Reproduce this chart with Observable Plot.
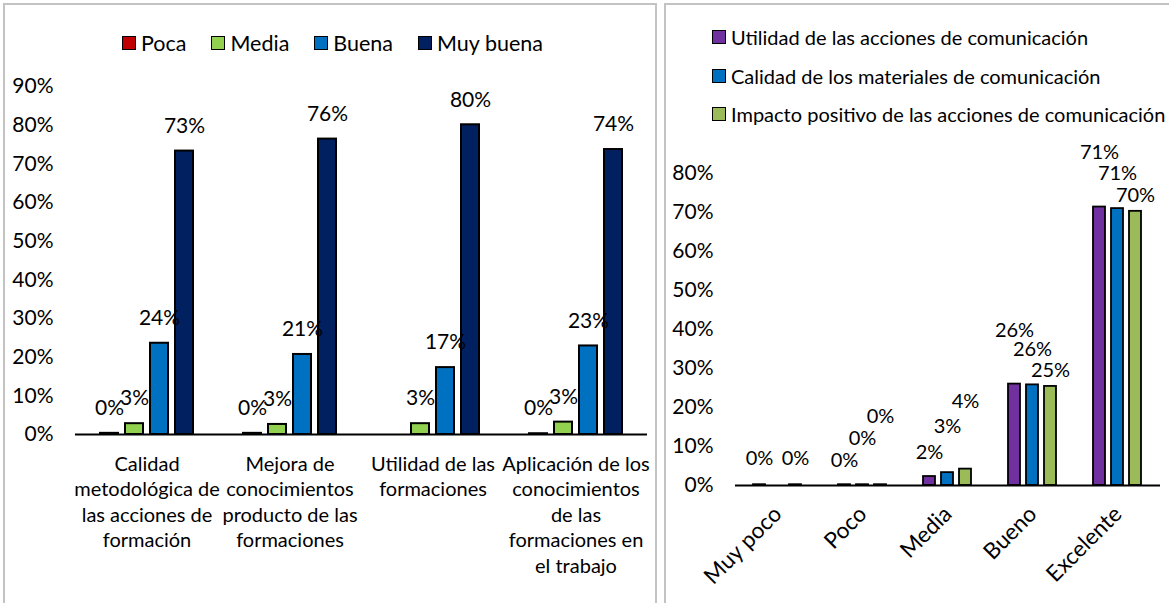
<!DOCTYPE html>
<html><head><meta charset="utf-8">
<script src="https://cdn.jsdelivr.net/npm/d3@7"></script>
<script src="https://cdn.jsdelivr.net/npm/@observablehq/plot@0.6"></script>
<style>
html,body{margin:0;padding:0;background:#fff;}
#page{position:relative;width:1169px;height:603px;overflow:hidden;font-family:Lato, sans-serif;color:#000;}
.panel{position:absolute;border:2px solid #c3c3c3;box-sizing:border-box;}
.chart{position:absolute;top:0;}
.legend{position:absolute;line-height:24px;color:#000;}
.item{display:flex;align-items:center;white-space:nowrap;}
.sw{display:inline-block;width:14px;height:14px;border:1.6px solid #000;box-sizing:border-box;margin-right:5px;}
#legL{left:122px;top:31px;display:flex;gap:25px;font-size:21.5px;}
#legR{left:712px;top:25px;display:flex;flex-direction:column;gap:14.5px;font-size:20px;}
</style></head>
<body><div id="page">
<div class="panel" style="left:3px;top:3px;width:654px;height:640px"></div>
<div class="panel" style="left:664px;top:3px;width:520px;height:640px"></div>
<div id="legL" class="legend"></div>
<div id="legR" class="legend"></div>
<div id="chartL" class="chart" style="left:0"></div>
<div id="chartR" class="chart" style="left:660px"></div>
</div>
<script>
// ---------- Left chart data ----------
const catsL = [
  "Calidad metodológica de las acciones de formación",
  "Mejora de conocimientos producto de las formaciones",
  "Utilidad de las formaciones",
  "Aplicación de los conocimientos de las formaciones en el trabajo"
];
const tickLabelsL = [
  "Calidad\nmetodológica de\nlas acciones de\nformación",
  "Mejora de\nconocimientos\nproducto de las\nformaciones",
  "Utilidad de las\nformaciones",
  "Aplicación de los\nconocimientos\nde las\nformaciones en\nel trabajo"
];
const seriesL = ["Poca", "Media", "Buena", "Muy buena"];
const poca     = [0.3, 0.3, null, 0.2];
const media    = [2.8, 2.6, 2.8, 3.2];
const buena    = [23.6, 20.7, 17.3, 22.9];
const muyBuena = [73.3, 76.4, 80.1, 73.7];
const colorsL  = ["#C00000", "#92D050", "#0070C0", "#002060"];
const yTicksL  = [0, 10, 20, 30, 40, 50, 60, 70, 80, 90];

// ---------- Right chart data ----------
const catsR = ["Muy poco", "Poco", "Media", "Bueno", "Excelente"];
const seriesR = [
  "Utilidad de las acciones de comunicación",
  "Calidad de los materiales de comunicación",
  "Impacto positivo de las acciones de comunicación"
];
const utilidad = [0.2, 0.2, 2.3, 26.0, 71.4];
const calidad  = [null, 0.2, 3.3, 25.8, 71.0];
const impacto  = [0.2, 0.2, 4.2, 25.4, 70.3];
const colorsR  = ["#7030A0", "#0070C0", "#9BBB59"];
const yTicksR  = [0, 10, 20, 30, 40, 50, 60, 70, 80];

const pct = v => `${Math.round(v)}%`;
const font = "Lato, sans-serif";

function tidy(cats, series, arrays) {
  const rows = [];
  arrays.forEach((vals, si) => vals.forEach((v, ci) => {
    if (v != null) rows.push({cat: cats[ci], series: series[si], si, ci, value: v});
  }));
  return rows;
}

// ---------- Legends ----------
function legend(el, series, colors) {
  series.forEach((s, i) => {
    const it = document.createElement("div");
    it.className = "item";
    const sw = document.createElement("span");
    sw.className = "sw";
    sw.style.background = colors[i];
    it.appendChild(sw);
    it.appendChild(document.createTextNode(s));
    el.appendChild(it);
  });
}
legend(document.getElementById("legL"), seriesL, colorsL);
legend(document.getElementById("legR"), seriesR, colorsR);

// ---------- Left chart ----------
const rowsL = tidy(catsL, seriesL, [poca, media, buena, muyBuena]);
const plotL = Plot.plot({
  width: 660, height: 603,
  marginLeft: 73, marginRight: 12, marginTop: 86, marginBottom: 169,
  style: {background: "transparent", fontFamily: font, fontSize: "20px", color: "#000", overflow: "visible"},
  fx: {domain: catsL, padding: 0, label: null},
  x: {domain: seriesL, paddingInner: 0.27, paddingOuter: 0.9, axis: null},
  y: {domain: [0, 90], label: null},
  color: {domain: seriesL, range: colorsL},
  marks: [
    Plot.axisY({ticks: yTicksL, tickFormat: d => d + "%", tickSize: 0, tickPadding: 22, label: null, fontSize: 21, line: true, stroke: "#808080"}),
    Plot.axisFx({anchor: "bottom", tickSize: 0, tickPadding: 18, label: null, fontSize: 20, lineHeight: 1.28,
      tickFormat: d => tickLabelsL[catsL.indexOf(d)]}),
    Plot.barY(rowsL, {fx: "cat", x: "series", y: "value", fill: "series", stroke: "#000", strokeWidth: 2}),
    Plot.ruleY([0], {stroke: "#000", strokeWidth: 2}),
    Plot.text(rowsL, {fx: "cat", x: "series", y: "value", text: d => pct(d.value), dy: -25, fontSize: 21, lineAnchor: "middle", fill: "#000"})
  ]
});
document.getElementById("chartL").appendChild(plotL);

// ---------- Right chart ----------
const rowsR = tidy(catsR, seriesR, [utilidad, calidad, impacto]);
// staggered label lift, derived from each group's values (as in the source layout)
function liftR(d) {
  const group = rowsR.filter(r => r.ci === d.ci);
  if (group.length < seriesR.length) return 26;
  const maxV = d3.max(group, r => r.value);
  return maxV < 10 ? 24 + 22 * d.si : 16 + 19 * (seriesR.length - 1 - d.si);
}
const lifts = [...new Set(rowsR.map(liftR))];
const plotR = Plot.plot({
  width: 509, height: 603,
  marginLeft: 73, marginRight: 7, marginTop: 173, marginBottom: 118,
  style: {background: "transparent", fontFamily: font, fontSize: "20px", color: "#000", overflow: "visible"},
  fx: {domain: catsR, padding: 0, label: null},
  x: {domain: seriesR, paddingInner: 0.316, paddingOuter: 0.916, axis: null},
  y: {domain: [0, 80], label: null},
  color: {domain: seriesR, range: colorsR},
  marks: [
    Plot.axisY({ticks: yTicksR, tickFormat: d => d + "%", tickSize: 0, tickPadding: 22, label: null, fontSize: 21, line: true, stroke: "#000", strokeWidth: 2}),
    Plot.axisFx({anchor: "bottom", tickSize: 0, tickPadding: 25, tickRotate: -45, label: null, fontSize: 22.5}),
    Plot.barY(rowsR, {fx: "cat", x: "series", y: "value", fill: "series", stroke: "#000", strokeWidth: 1.8}),
    Plot.ruleY([0], {stroke: "#000", strokeWidth: 2}),
    ...lifts.map(l => Plot.text(rowsR.filter(d => liftR(d) === l),
      {fx: "cat", x: "series", y: "value", text: d => pct(d.value), dy: -l, fontSize: 20, lineAnchor: "middle", fill: "#000"}))
  ]
});
document.getElementById("chartR").appendChild(plotR);
</script>
</body></html>
